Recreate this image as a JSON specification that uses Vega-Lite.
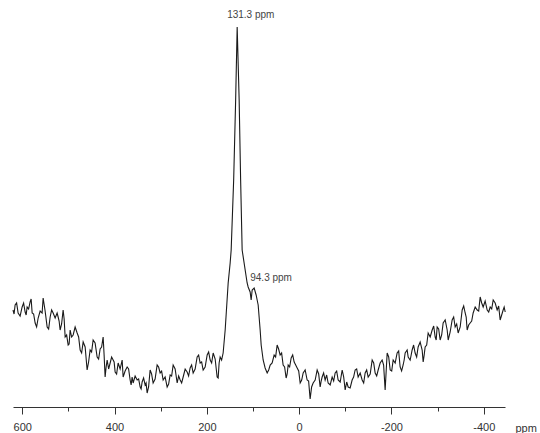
{
  "$schema": "https://vega.github.io/schema/vega-lite/v6.json",
  "width": 492,
  "height": 407,
  "autosize": {"type": "none"},
  "padding": {"left": 13, "top": 0, "right": 35, "bottom": 26},
  "background": "white",
  "config": {"view": {"stroke": null}},
  "datasets": {
    "spectrum": [
      {"p": 620, "i": 97}, {"p": 615.4, "i": 102}, {"p": 608.9, "i": 94}, {"p": 600.2, "i": 100},
      {"p": 593.7, "i": 95}, {"p": 589.4, "i": 100}, {"p": 582.9, "i": 105}, {"p": 578.5, "i": 94},
      {"p": 572, "i": 84}, {"p": 565.5, "i": 89}, {"p": 556.9, "i": 94}, {"p": 554.7, "i": 109},
      {"p": 546, "i": 80}, {"p": 539.5, "i": 90}, {"p": 533, "i": 94}, {"p": 524.4, "i": 94},
      {"p": 522.2, "i": 90}, {"p": 517.9, "i": 77}, {"p": 511.4, "i": 97}, {"p": 507, "i": 70},
      {"p": 500.5, "i": 62}, {"p": 496.2, "i": 77}, {"p": 489.7, "i": 72}, {"p": 481, "i": 74},
      {"p": 474.5, "i": 57}, {"p": 468, "i": 65}, {"p": 459.4, "i": 37}, {"p": 452.9, "i": 57},
      {"p": 446.4, "i": 67}, {"p": 437.7, "i": 50}, {"p": 431.2, "i": 58}, {"p": 424.7, "i": 70},
      {"p": 420.4, "i": 30}, {"p": 416, "i": 47}, {"p": 409.5, "i": 44}, {"p": 403, "i": 47},
      {"p": 398.7, "i": 35}, {"p": 392.2, "i": 44}, {"p": 383.5, "i": 47}, {"p": 381.4, "i": 30},
      {"p": 372.7, "i": 40}, {"p": 366.2, "i": 27}, {"p": 361.9, "i": 30}, {"p": 359.7, "i": 24},
      {"p": 351, "i": 27}, {"p": 344.5, "i": 20}, {"p": 340.2, "i": 25}, {"p": 333.7, "i": 22},
      {"p": 329.4, "i": 14}, {"p": 322.9, "i": 37}, {"p": 316.4, "i": 24}, {"p": 307.7, "i": 42},
      {"p": 301.2, "i": 34}, {"p": 294.7, "i": 27}, {"p": 286, "i": 20}, {"p": 279.5, "i": 32},
      {"p": 273, "i": 42}, {"p": 264.3, "i": 24}, {"p": 257.8, "i": 27}, {"p": 251.3, "i": 30},
      {"p": 242.7, "i": 35}, {"p": 236.2, "i": 39}, {"p": 229.7, "i": 34}, {"p": 221, "i": 50},
      {"p": 214.5, "i": 44}, {"p": 208, "i": 37}, {"p": 199.3, "i": 52}, {"p": 192.8, "i": 47},
      {"p": 186.3, "i": 54}, {"p": 177.7, "i": 30}, {"p": 175.5, "i": 29}, {"p": 171.2, "i": 50},
      {"p": 164.7, "i": 54}, {"p": 160.3, "i": 77}, {"p": 153.8, "i": 124}, {"p": 149.5, "i": 144},
      {"p": 147.3, "i": 157}, {"p": 141.9, "i": 227}, {"p": 137.6, "i": 307}, {"p": 134.3, "i": 380},
      {"p": 130, "i": 307}, {"p": 126.8, "i": 227}, {"p": 123.5, "i": 157}, {"p": 112.7, "i": 124},
      {"p": 110.5, "i": 120}, {"p": 106.2, "i": 115}, {"p": 104, "i": 107}, {"p": 101.8, "i": 117},
      {"p": 97.5, "i": 119}, {"p": 93.2, "i": 112}, {"p": 91, "i": 107}, {"p": 88.8, "i": 102},
      {"p": 84.5, "i": 77}, {"p": 82.3, "i": 62}, {"p": 78, "i": 47}, {"p": 73.7, "i": 39},
      {"p": 69.3, "i": 34}, {"p": 62.8, "i": 42}, {"p": 54.2, "i": 52}, {"p": 47.7, "i": 62},
      {"p": 41.2, "i": 52}, {"p": 34.7, "i": 42}, {"p": 28.2, "i": 29}, {"p": 23.8, "i": 42},
      {"p": 17.3, "i": 49}, {"p": 10.8, "i": 45}, {"p": 4.3, "i": 39}, {"p": -2.2, "i": 24},
      {"p": -8.7, "i": 34}, {"p": -17.3, "i": 27}, {"p": -23.8, "i": 8}, {"p": -30.3, "i": 24},
      {"p": -39, "i": 37}, {"p": -45.5, "i": 20}, {"p": -49.8, "i": 30}, {"p": -56.3, "i": 27},
      {"p": -62.8, "i": 24}, {"p": -71.5, "i": 30}, {"p": -78, "i": 34}, {"p": -84.5, "i": 27},
      {"p": -93.2, "i": 37}, {"p": -99.7, "i": 17}, {"p": -106.2, "i": 20}, {"p": -114.8, "i": 27},
      {"p": -121.3, "i": 37}, {"p": -127.8, "i": 30}, {"p": -136.5, "i": 27}, {"p": -143, "i": 34},
      {"p": -149.5, "i": 30}, {"p": -158.2, "i": 47}, {"p": -164.7, "i": 34}, {"p": -171.2, "i": 37},
      {"p": -179.8, "i": 47}, {"p": -186.3, "i": 17}, {"p": -190.7, "i": 54}, {"p": -197.2, "i": 37},
      {"p": -203.7, "i": 47}, {"p": -212.3, "i": 54}, {"p": -218.8, "i": 40}, {"p": -225.3, "i": 42},
      {"p": -229.7, "i": 54}, {"p": -234, "i": 57}, {"p": -236.2, "i": 50}, {"p": -240.5, "i": 47},
      {"p": -244.8, "i": 57}, {"p": -251.3, "i": 54}, {"p": -257.8, "i": 60}, {"p": -266.5, "i": 57},
      {"p": -268.7, "i": 45}, {"p": -273, "i": 60}, {"p": -279.5, "i": 74}, {"p": -288.2, "i": 77},
      {"p": -294.7, "i": 70}, {"p": -299, "i": 80}, {"p": -305.5, "i": 67}, {"p": -312, "i": 84},
      {"p": -320.7, "i": 77}, {"p": -322.9, "i": 67}, {"p": -331.5, "i": 87}, {"p": -338, "i": 80},
      {"p": -344.5, "i": 74}, {"p": -353.2, "i": 97}, {"p": -359.7, "i": 94}, {"p": -364, "i": 77},
      {"p": -370.5, "i": 84}, {"p": -377, "i": 94}, {"p": -385.7, "i": 97}, {"p": -392.2, "i": 110},
      {"p": -398.7, "i": 100}, {"p": -407.4, "i": 97}, {"p": -413.9, "i": 100}, {"p": -420.4, "i": 107},
      {"p": -429, "i": 97}, {"p": -435.5, "i": 87}, {"p": -442, "i": 97}, {"p": -446.4, "i": 95},
      {"p": 617.7, "i": 93}, {"p": 612.2, "i": 104}, {"p": 604.6, "i": 91}, {"p": 597, "i": 104},
      {"p": 591.5, "i": 92}, {"p": 586.2, "i": 98}, {"p": 580.7, "i": 108}, {"p": 575.3, "i": 93},
      {"p": 568.8, "i": 80}, {"p": 561.2, "i": 96}, {"p": 550.4, "i": 96}, {"p": 542.8, "i": 78},
      {"p": 536.3, "i": 97}, {"p": 528.7, "i": 89}, {"p": 520.1, "i": 86}, {"p": 514.7, "i": 83},
      {"p": 509.2, "i": 88}, {"p": 503.8, "i": 72}, {"p": 498.4, "i": 63}, {"p": 493, "i": 70},
      {"p": 485.4, "i": 80}, {"p": 477.8, "i": 70}, {"p": 471.3, "i": 54}, {"p": 463.7, "i": 60},
      {"p": 456.2, "i": 45}, {"p": 449.7, "i": 55}, {"p": 442.1, "i": 64}, {"p": 434.5, "i": 48},
      {"p": 428, "i": 60}, {"p": 422.6, "i": 52}, {"p": 418.2, "i": 40}, {"p": 412.8, "i": 38},
      {"p": 406.3, "i": 50}, {"p": 400.9, "i": 45}, {"p": 395.5, "i": 33}, {"p": 387.9, "i": 38},
      {"p": 377.1, "i": 36}, {"p": 369.5, "i": 38}, {"p": 364.1, "i": 22}, {"p": 355.4, "i": 31},
      {"p": 347.8, "i": 28}, {"p": 342.4, "i": 18}, {"p": 337, "i": 29}, {"p": 331.6, "i": 24},
      {"p": 326.2, "i": 20}, {"p": 319.7, "i": 33}, {"p": 312.1, "i": 28}, {"p": 304.5, "i": 40},
      {"p": 298, "i": 36}, {"p": 290.4, "i": 30}, {"p": 282.8, "i": 23}, {"p": 276.3, "i": 31},
      {"p": 268.7, "i": 38}, {"p": 261.1, "i": 31}, {"p": 254.6, "i": 24}, {"p": 247, "i": 38},
      {"p": 239.5, "i": 31}, {"p": 233, "i": 42}, {"p": 225.4, "i": 38}, {"p": 217.8, "i": 52},
      {"p": 211.3, "i": 45}, {"p": 203.7, "i": 40}, {"p": 196.1, "i": 55}, {"p": 189.6, "i": 44},
      {"p": 182, "i": 48}, {"p": 173.4, "i": 44}, {"p": 168, "i": 47},
      {"p": 66, "i": 37}, {"p": 58.5, "i": 44}, {"p": 51, "i": 50}, {"p": 44.5, "i": 58},
      {"p": 38, "i": 54}, {"p": 31.5, "i": 40}, {"p": 26, "i": 33}, {"p": 20.6, "i": 40},
      {"p": 14, "i": 52}, {"p": 7.5, "i": 42}, {"p": 1, "i": 36}, {"p": -5.5, "i": 27},
      {"p": -13, "i": 37}, {"p": -20.5, "i": 26}, {"p": -27, "i": 20}, {"p": -34.7, "i": 27},
      {"p": -42.3, "i": 33}, {"p": -47.7, "i": 26}, {"p": -53, "i": 34}, {"p": -59.6, "i": 32},
      {"p": -67.2, "i": 22}, {"p": -74.8, "i": 26}, {"p": -81.3, "i": 36}, {"p": -88.9, "i": 25},
      {"p": -96.5, "i": 30}, {"p": -103, "i": 25}, {"p": -110.5, "i": 19}, {"p": -118, "i": 30},
      {"p": -124.6, "i": 38}, {"p": -132.2, "i": 34}, {"p": -139.8, "i": 24}, {"p": -146.3, "i": 37},
      {"p": -153.9, "i": 33}, {"p": -161.5, "i": 44}, {"p": -168, "i": 31}, {"p": -175.5, "i": 44},
      {"p": -183, "i": 42}, {"p": -194, "i": 50}, {"p": -200.5, "i": 36}, {"p": -208, "i": 44},
      {"p": -215.6, "i": 56}, {"p": -222, "i": 36}, {"p": -227.5, "i": 47}, {"p": -242.7, "i": 52},
      {"p": -248, "i": 62}, {"p": -254.6, "i": 50}, {"p": -262.2, "i": 65}, {"p": -270.9, "i": 52},
      {"p": -276.3, "i": 62}, {"p": -283.9, "i": 70}, {"p": -291.5, "i": 81}, {"p": -296.9, "i": 67},
      {"p": -302.3, "i": 78}, {"p": -308.8, "i": 72}, {"p": -316.4, "i": 87}, {"p": -327.2, "i": 75},
      {"p": -334.8, "i": 90}, {"p": -341.3, "i": 83}, {"p": -348.9, "i": 80}, {"p": -356.5, "i": 101},
      {"p": -361.9, "i": 90}, {"p": -367.3, "i": 82}, {"p": -373.8, "i": 86}, {"p": -381.4, "i": 100},
      {"p": -389, "i": 96}, {"p": -395.5, "i": 104}, {"p": -403, "i": 106}, {"p": -410.7, "i": 95},
      {"p": -417.2, "i": 98}, {"p": -424.7, "i": 104}, {"p": -432.3, "i": 101}, {"p": -438.8, "i": 92},
      {"p": -444.2, "i": 100}
    ],
    "labels": [
      {"p": 156, "i": 392, "t": "131.3 ppm"},
      {"p": 106, "i": 129, "t": "94.3 ppm"}
    ]
  },
  "layer": [
    {
      "data": {"name": "spectrum"},
      "mark": {"type": "line", "color": "#1a1a1a", "strokeWidth": 1.1, "clip": false},
      "encoding": {
        "x": {
          "field": "p", "type": "quantitative",
          "scale": {"domain": [620, -446], "nice": false, "zero": false},
          "axis": {
            "values": [600, 550, 500, 450, 400, 350, 300, 250, 200, 150, 100, 50, 0, -50, -100, -150, -200, -250, -300, -350, -400],
            "labelExpr": "datum.value % 200 === 0 ? '' + datum.value : ''",
            "labelOverlap": false,
            "labelFont": "Liberation Sans",
            "labelFontSize": 11,
            "labelColor": "#333",
            "labelPadding": 7,
            "tickSize": {"condition": {"test": "datum.value % 200 === 0", "value": 7}, "value": 4},
            "tickColor": "#333",
            "domainColor": "#333",
            "grid": false,
            "title": "ppm",
            "titleFont": "Liberation Sans",
            "titleFontSize": 11,
            "titleFontWeight": "normal",
            "titleColor": "#333",
            "titleAlign": "left",
            "titleBaseline": "alphabetic",
            "titleX": 502,
            "titleY": 24
          }
        },
        "y": {
          "field": "i", "type": "quantitative",
          "scale": {"domain": [0, 407], "nice": false, "zero": false},
          "axis": null
        },
        "order": {"field": "p", "type": "quantitative", "sort": "descending"}
      }
    },
    {
      "data": {"name": "labels"},
      "mark": {"type": "text", "align": "left", "baseline": "middle", "font": "Liberation Sans", "fontSize": 10, "color": "#444"},
      "encoding": {
        "x": {"field": "p", "type": "quantitative"},
        "y": {"field": "i", "type": "quantitative"},
        "text": {"field": "t"}
      }
    }
  ]
}
